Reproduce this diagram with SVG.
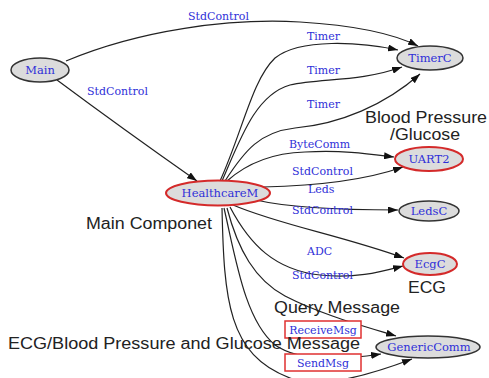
<svg xmlns="http://www.w3.org/2000/svg" width="489" height="378" viewBox="0 0 489 378">
<defs>
<marker id="ah" viewBox="0 0 10 7" refX="10" refY="3.5" markerWidth="10" markerHeight="7" markerUnits="userSpaceOnUse" orient="auto"><path d="M0,0 L10,3.5 L0,7 z" fill="#111"/></marker>
</defs>
<style>
.e{fill:none;stroke:#222;stroke-width:1.2;marker-end:url(#ah)}
.n{fill:#dcdcdc;stroke:#333;stroke-width:1.5}
.r{fill:#dcdcdc;stroke:#d42a2a;stroke-width:2}
.nl{font-family:"DejaVu Serif",serif;font-size:11.5px;fill:#2f2fd8;text-anchor:middle}
.el{font-family:"DejaVu Serif",serif;font-size:11px;fill:#2f2fd8}
.bx{fill:#fff;stroke:#e03030;stroke-width:1.5}
.an{font-family:"Liberation Sans",Arial,sans-serif;font-size:16px;fill:#222}
</style>
<rect width="489" height="378" fill="#fff"/>
<g id="connectors">
<path class="e" d="M66,61 C140,30 230,18 300,22 C350,25 392,33 418,46"/>
<path class="e" d="M57,80 C100,112 150,148 197,181"/>
<path class="e" d="M220,181 C243,130 252,80 275,58 C300,38 360,42 398,50"/>
<path class="e" d="M222,181 C240,140 255,95 290,85 C320,78 360,82 402,67"/>
<path class="e" d="M225,181 C245,150 260,132 295,128 C340,124 385,105 420,74"/>
<path class="e" d="M227,181 C245,165 270,153 305,152 C345,150 370,154 394,157"/>
<path class="e" d="M263,187 C310,186 360,182 403,167"/>
<path class="e" d="M256,200 C290,208 350,210 398,210"/>
<path class="e" d="M233,205 C280,225 340,235 404,258"/>
<path class="e" d="M230,207 C250,245 275,270 320,275 C355,279 380,272 403,266"/>
<path class="e" d="M227,208 C238,250 255,280 285,296 C320,314 360,325 396,336"/>
<path class="e" d="M224,208 C236,260 245,320 275,345 C300,362 340,360 381,354"/>
<path class="e" d="M222,208 C224,300 228,355 290,378 C320,390 370,375 412,359"/>
</g>
<g id="Main"><ellipse class="n" cx="40" cy="70" rx="29" ry="12"/><text class="nl" x="40" y="74">Main</text></g>
<g id="TimerC"><ellipse class="n" cx="430" cy="58" rx="33" ry="12"/><text class="nl" x="430" y="62">TimerC</text></g>
<g id="HealthcareM"><ellipse class="r" cx="218" cy="193" rx="52" ry="12.5"/><text class="nl" x="220" y="197">HealthcareM</text></g>
<g id="UART2"><ellipse class="r" cx="429" cy="159" rx="34" ry="12"/><text class="nl" x="429" y="163">UART2</text></g>
<g id="LedsC"><ellipse class="n" cx="429" cy="211" rx="30" ry="10"/><text class="nl" x="429" y="215">LedsC</text></g>
<g id="EcgC"><ellipse class="r" cx="430" cy="264" rx="27" ry="11"/><text class="nl" x="430" y="268">EcgC</text></g>
<g id="GenericComm"><ellipse class="n" cx="428" cy="347" rx="52" ry="11"/><text class="nl" x="429" y="351">GenericComm</text></g>
<g id="edge-labels">
<text class="el" x="188" y="20">StdControl</text>
<text class="el" x="87" y="95">StdControl</text>
<text class="el" x="307" y="40">Timer</text>
<text class="el" x="307" y="74">Timer</text>
<text class="el" x="307" y="108">Timer</text>
<text class="el" x="289" y="148">ByteComm</text>
<text class="el" x="292" y="175">StdControl</text>
<text class="el" x="308" y="193">Leds</text>
<text class="el" x="292" y="214">StdControl</text>
<text class="el" x="307" y="255">ADC</text>
<text class="el" x="292" y="279">StdControl</text>
</g>
<g id="ReceiveMsg"><rect class="bx" x="285" y="321" width="76" height="17"/><text class="el" x="323" y="334" text-anchor="middle">ReceiveMsg</text></g>
<g id="SendMsg"><rect class="bx" x="285" y="354" width="76" height="17"/><text class="el" x="323" y="367" text-anchor="middle">SendMsg</text></g>
<g id="annotations">
<text class="an" x="365" y="123" textLength="122" lengthAdjust="spacingAndGlyphs">Blood Pressure</text>
<text class="an" x="390" y="140" textLength="70" lengthAdjust="spacingAndGlyphs">/Glucose</text>
<text class="an" x="86" y="229" textLength="126" lengthAdjust="spacingAndGlyphs">Main Componet</text>
<text class="an" x="408" y="293" textLength="38" lengthAdjust="spacingAndGlyphs">ECG</text>
<text class="an" x="274" y="313" textLength="126" lengthAdjust="spacingAndGlyphs">Query Message</text>
<text class="an" x="8" y="349" textLength="352" lengthAdjust="spacingAndGlyphs">ECG/Blood Pressure and Glucose Message</text>
</g>
</svg>
